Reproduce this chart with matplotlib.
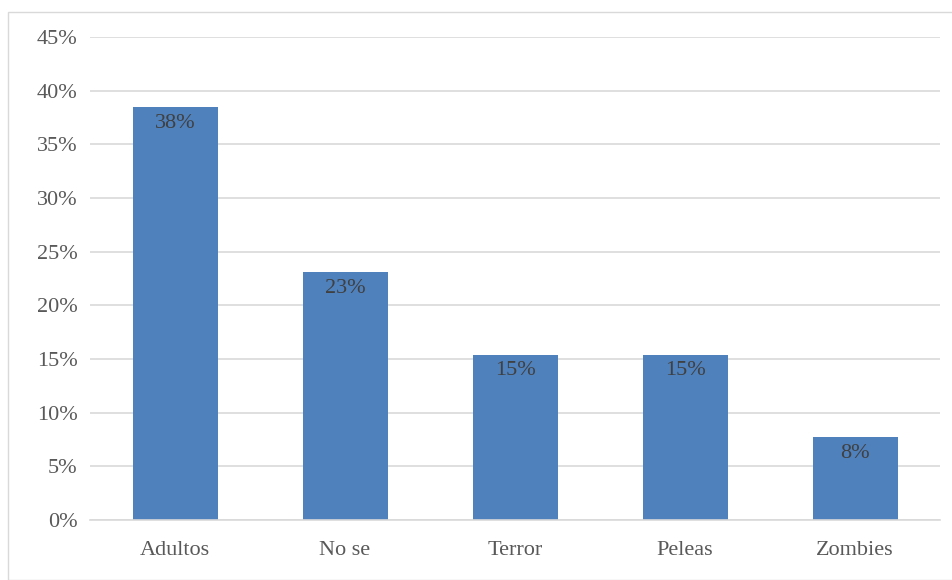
import matplotlib.pyplot as plt
from matplotlib.patches import Rectangle
from matplotlib.ticker import PercentFormatter

categories = ["Adultos", "No se", "Terror", "Peleas", "Zombies"]
values = [5 / 13, 3 / 13, 2 / 13, 2 / 13, 1 / 13]
labels = ["38%", "23%", "15%", "15%", "8%"]

plt.rcParams["font.family"] = ["Liberation Serif", "DejaVu Serif"]

fig = plt.figure(figsize=(9.52, 5.80), dpi=100)
ax = fig.add_axes([90 / 952, 1 - 520 / 580, 850 / 952, (520 - 37) / 580])

# chart border
fig.patches.append(Rectangle((8 / 952, 0), 1.2, 1 - 12 / 580, transform=fig.transFigure,
                             fill=False, edgecolor="#d9d9d9", linewidth=1))

x = range(len(categories))
bars = ax.bar(x, values, width=0.5, color="#4f81bd", zorder=2)
for b, lab in zip(bars, labels):
    ax.text(b.get_x() + b.get_width() / 2, b.get_height() - 0.006, lab,
            ha="center", va="top", fontsize=16, color="#404040")

ax.set_xlim(-0.5, len(categories) - 0.5)
ax.set_ylim(0, 0.45)
ax.set_yticks([i * 0.05 for i in range(10)])
ax.yaxis.set_major_formatter(PercentFormatter(1.0, decimals=0))
ax.set_xticks(list(x))
ax.set_xticklabels(categories)
ax.grid(axis="y", color="#d9d9d9", linewidth=1.2, zorder=0)
for s in ["top", "right", "left"]:
    ax.spines[s].set_visible(False)
ax.spines["bottom"].set_color("#d9d9d9")
ax.spines["bottom"].set_linewidth(1.2)
ax.tick_params(axis="both", length=0, labelsize=16, colors="#595959")
ax.tick_params(axis="y", pad=9)
ax.tick_params(axis="x", pad=15)

fig.savefig("out.png", dpi=100)
